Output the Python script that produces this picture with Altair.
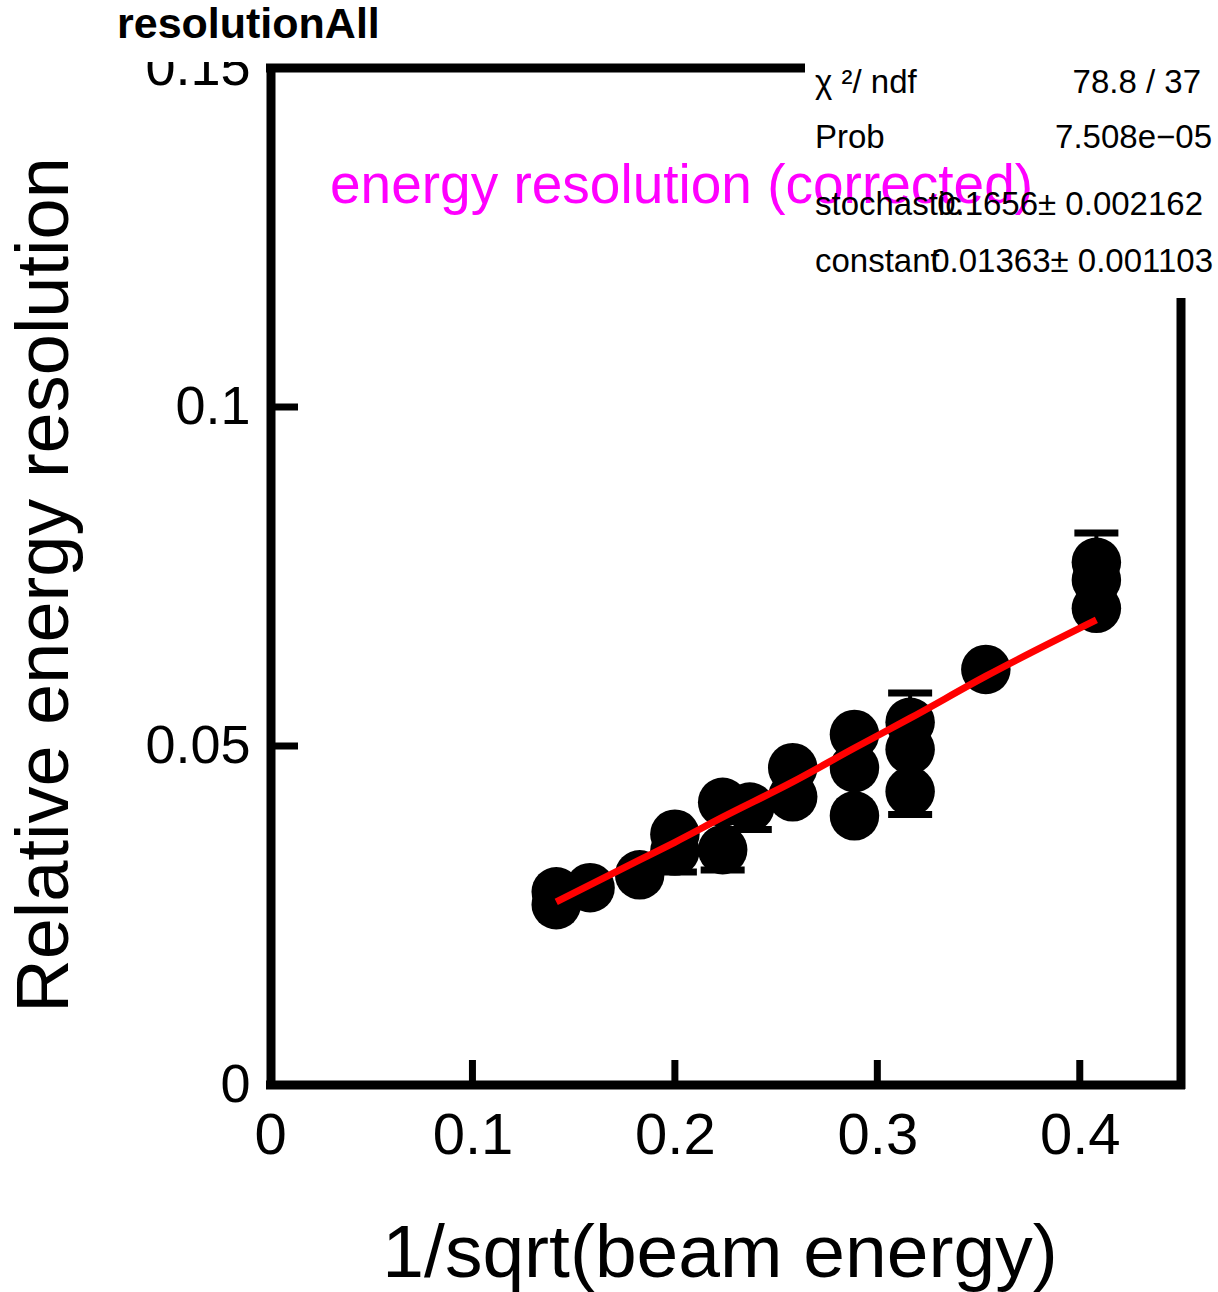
import altair as alt
import pandas as pd

# ---------------- data ----------------
pt_x = [0.1414, 0.1414, 0.1581, 0.1826, 0.2000, 0.2000, 0.2236, 0.2236, 0.2370,
        0.2582, 0.2582, 0.2887, 0.2887, 0.2887, 0.3162, 0.3162, 0.3162, 0.3536,
        0.4082, 0.4082, 0.4082]
pt_y = [0.0285, 0.0266, 0.0291, 0.0310, 0.0370, 0.0345, 0.0417, 0.0347, 0.0410,
        0.0468, 0.0425, 0.0517, 0.0468, 0.0397, 0.0535, 0.0495, 0.0433, 0.0613,
        0.0771, 0.0745, 0.0703]
# lower / upper error (most are hidden under the markers)
err_lo = [0.0010, 0.0010, 0.0010, 0.0010, 0.0010, 0.0031, 0.0010, 0.0030, 0.0033,
          0.0010, 0.0010, 0.0010, 0.0010, 0.0010, 0.0010, 0.0010, 0.0034, 0.0010,
          0.0010, 0.0010, 0.0010]
err_hi = [0.0010, 0.0010, 0.0010, 0.0010, 0.0010, 0.0010, 0.0010, 0.0010, 0.0010,
          0.0010, 0.0010, 0.0010, 0.0010, 0.0010, 0.0043, 0.0010, 0.0010, 0.0010,
          0.0043, 0.0010, 0.0010]

fit_x = [0.1414, 0.1826, 0.2000, 0.2236, 0.2582, 0.2887, 0.3162, 0.3536, 0.4082]
fit_y = [0.0270, 0.0332, 0.0358, 0.0395, 0.0447, 0.0497, 0.0541, 0.0603, 0.0686]

x_ticks = [0, 0.1, 0.2, 0.3, 0.4]
y_ticks = [0, 0.05, 0.1, 0.15]
x_inner_ticks = [0.1, 0.2, 0.3, 0.4]
y_inner_ticks = [0.05, 0.1]

stats_labels = ["χ ²/ ndf", "Prob", "stochastic", "constant"]
stats_values = ["78.8 / 37", "7.508e−05", "0.1656± 0.002162", "0.01363± 0.001103"]

title_text = "resolutionAll"
x_title = "1/sqrt(beam energy)"
y_title = "Relative energy resolution"
graph_label = "energy resolution (corrected)"

# ---------------- chart ----------------
W, H = 911, 1017
FONT = "Liberation Sans"

xs = alt.Scale(domain=[0, 0.45], nice=False, zero=False)
ys = alt.Scale(domain=[0, 0.15], nice=False, zero=False)
LEXPR = "format(datum.value, '~g')"
xax = alt.Axis(values=x_ticks, labelExpr=LEXPR, labelFontSize=58, labelFont=FONT,
               labelColor="black", ticks=False, domain=False, grid=False,
               title=None, labelPadding=22, labelFlush=False, labelOverlap=False, zindex=0)
yax = alt.Axis(values=y_ticks, labelExpr=LEXPR, labelFontSize=54, labelFont=FONT,
               labelColor="black", ticks=False, domain=False, grid=False,
               title=None, labelPadding=20, labelFlush=False, labelOverlap=False, zindex=0)

pts = pd.DataFrame({
    "x": pt_x,
    "y": pt_y,
    "lo": [y - e for y, e in zip(pt_y, err_lo)],
    "hi": [y + e for y, e in zip(pt_y, err_hi)],
})
fit = pd.DataFrame({"x": fit_x, "y": fit_y})
one = pd.DataFrame({"a": [0]})

X = alt.X("x:Q", scale=xs, axis=xax)

err_rule = alt.Chart(pts).mark_rule(color="black", strokeWidth=4).encode(
    x=X, y=alt.Y("lo:Q", scale=ys, axis=yax), y2="hi:Q")
cap_lo = alt.Chart(pts).mark_tick(color="black", orient="horizontal", size=44,
                                  thickness=7, opacity=1).encode(
    x=X, y=alt.Y("lo:Q", scale=ys, axis=yax))
cap_hi = alt.Chart(pts).mark_tick(color="black", orient="horizontal", size=44,
                                  thickness=7, opacity=1).encode(
    x=X, y=alt.Y("hi:Q", scale=ys, axis=yax))
circles = alt.Chart(pts).mark_circle(color="black", size=2450, opacity=1).encode(
    x=X, y=alt.Y("y:Q", scale=ys, axis=yax))
fit_line = alt.Chart(fit).mark_line(color="#ff0000", strokeWidth=7,
                                    interpolate="monotone").encode(
    x=X, y=alt.Y("y:Q", scale=ys, axis=yax))

xt = alt.Chart(pd.DataFrame({"x": x_inner_ticks})).mark_rule(
    color="black", strokeWidth=7).encode(
    x=X, y=alt.value(H), y2=alt.value(H - 25))
yt = alt.Chart(pd.DataFrame({"y": y_inner_ticks})).mark_rule(
    color="black", strokeWidth=7).encode(
    y=alt.Y("y:Q", scale=ys, axis=yax), x=alt.value(0), x2=alt.value(28))

FW = 9
frame_left = alt.Chart(one).mark_rule(color="black", strokeWidth=FW).encode(
    x=alt.value(1), y=alt.value(-4), y2=alt.value(H + 4))
frame_bottom = alt.Chart(one).mark_rule(color="black", strokeWidth=FW).encode(
    y=alt.value(H), x=alt.value(-4), x2=alt.value(W + 4))
frame_top = alt.Chart(one).mark_rule(color="black", strokeWidth=FW).encode(
    y=alt.value(0), x=alt.value(-4), x2=alt.value(535))
frame_right = alt.Chart(one).mark_rule(color="black", strokeWidth=FW).encode(
    x=alt.value(W), y=alt.value(230), y2=alt.value(H + 4))

cover = alt.Chart(one).mark_rect(color="white", opacity=1).encode(
    x=alt.value(-190), x2=alt.value(-8), y=alt.value(-68), y2=alt.value(-6))

title = alt.Chart(pd.DataFrame({"t": [title_text]})).mark_text(
    font=FONT, fontSize=43, fontWeight="bold", align="left", baseline="alphabetic",
    color="black").encode(text="t:N", x=alt.value(-153), y=alt.value(-30))

glabel = alt.Chart(pd.DataFrame({"t": [graph_label]})).mark_text(
    font=FONT, fontSize=55, align="left", baseline="alphabetic",
    color="#ff00ff").encode(text="t:N", x=alt.value(60), y=alt.value(135))

stat_layers = []
label_base = [25, 80, 147, 204]
value_right = [931, 942, 933, 943]
for i in range(len(stats_labels)):
    stat_layers.append(
        alt.Chart(pd.DataFrame({"t": [stats_labels[i]]})).mark_text(
            font=FONT, fontSize=33, align="left", baseline="alphabetic",
            color="black").encode(text="t:N", x=alt.value(545),
                                  y=alt.value(label_base[i])))
    stat_layers.append(
        alt.Chart(pd.DataFrame({"t": [stats_values[i]]})).mark_text(
            font=FONT, fontSize=33, align="right", baseline="alphabetic",
            color="black").encode(text="t:N", x=alt.value(value_right[i]),
                                  y=alt.value(label_base[i])))

xtitle = alt.Chart(pd.DataFrame({"t": [x_title]})).mark_text(
    font=FONT, fontSize=75, align="center", baseline="alphabetic",
    color="black").encode(text="t:N", x=alt.value(450), y=alt.value(1209))
ytitle = alt.Chart(pd.DataFrame({"t": [y_title]})).mark_text(
    font=FONT, fontSize=74, align="center", baseline="alphabetic", angle=270,
    color="black").encode(text="t:N", x=alt.value(-202), y=alt.value(517))

chart = alt.layer(
    err_rule, cap_lo, cap_hi, circles, fit_line, xt, yt,
    frame_left, frame_bottom, frame_top, frame_right,
    cover, title, glabel, *stat_layers, xtitle, ytitle
).properties(
    width=W, height=H,
    padding={"left": 270, "top": 68, "right": 37, "bottom": 207},
    autosize=alt.AutoSizeParams(type="none"),
    background="white",
).configure_view(stroke=None)

chart.save("out.html", embed_options={"renderer": "svg", "actions": False})
